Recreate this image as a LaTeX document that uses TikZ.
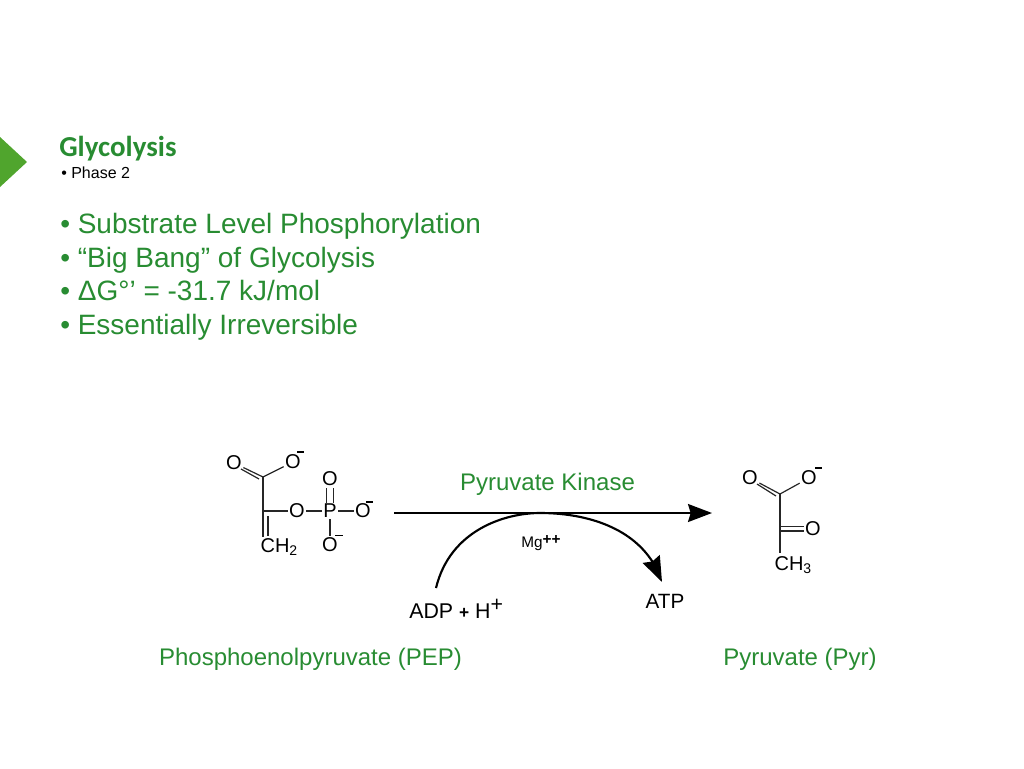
\documentclass[tikz,border=0pt]{standalone}
\usepackage{fontspec}
\setmainfont{Liberation Sans}
\newfontfamily\calfont{Carlito}
\usetikzlibrary{arrows.meta,bending}
\definecolor{titlegreen}{RGB}{40,140,50}
\definecolor{markgreen}{RGB}{80,165,45}
\newcommand{\fs}[1]{\fontsize{#1}{#1}\selectfont}
\tikzset{
  x=0.75pt,y=-0.75pt,
  lab/.style={inner sep=0pt,anchor=base west,text=titlegreen},
  blk/.style={inner sep=0pt,anchor=base west,text=black},
  atom/.style={inner sep=0pt,outer sep=1.2pt,text=black,font=\fs{15}},
  bond/.style={draw=black!85,line width=0.9pt},
  chg/.style={draw=black,line width=0.9pt},
  rxn/.style={draw=black,line width=1.3pt},
}
\begin{document}
\begin{tikzpicture}
\useasboundingbox (0,0) rectangle (1024,768);
\fill[markgreen] (0,137) -- (27,162) -- (0,187) -- cycle;
\node[lab,font=\calfont\bfseries\fs{21.7}] (title) at (59,156) {Glycolysis};
\node[blk,font=\fs{12}] (phase) at (61,178.5) {• Phase 2};
\node[lab,font=\fs{21}] (l1) at (60,233.5) {• Substrate Level Phosphorylation};
\node[lab,font=\fs{21}] (l2) at (60,267) {• “Big Bang” of Glycolysis};
\node[lab,font=\fs{21}] (l3) at (60,300.5) {• ΔG°’ = -31.7 kJ/mol};
\node[lab,font=\fs{21}] (l4) at (60,334) {• Essentially Irreversible};
% PEP
\coordinate (c1) at (263,477);
\coordinate (c2) at (263,511);
\node[atom] (oa) at (234,463) {O};
\node[atom] (ob) at (293,462) {O};
\coordinate (mb) at (297,452);
\node[atom] (oc) at (297,511) {O};
\node[atom] (p) at (330,511) {P};
\node[atom] (od) at (330,479) {O};
\node[atom] (oe) at (363,511) {O};
\coordinate (me) at (366,502);
\node[atom] (of) at (330,545) {O};
\coordinate (mf) at (335,535);
\node[atom,anchor=base west] (ch2) at (259,552) {CH\textsubscript{2}};
\draw[chg] (mb) -- ++(7,0);
\draw[chg] (me) -- ++(7,0);
\draw[chg,line width=0.6pt] (mf) -- ++(8,0);
\draw[bond] (c1) -- (ob);
\draw[bond] (c1) -- (c2) -- (oc) -- (p) -- (oe);
\draw[bond] (c2) -- (263,537);
\draw[bond] (268,516) -- (268,536);
\draw[bond] (c1) -- (oa);
\draw[bond] ([shift={(7,6)}]oa.center) -- ([shift={(-4,2)}]c1);
\draw[bond] ([xshift=-2.5]p.north) -- ([xshift=-2.5]od.south);
\draw[bond] ([xshift=2.5]p.north) -- ([xshift=2.5]od.south);
\draw[bond] (p) -- (of);
% Pyruvate
\coordinate (c3) at (780,494);
\coordinate (c4) at (780,528.5);
\node[atom] (og) at (750,478) {O};
\node[atom] (oh) at (809,478) {O};
\coordinate (mh) at (815,468);
\node[atom] (oi) at (813,528.5) {O};
\node[atom,anchor=base west] (ch3) at (773,570) {CH\textsubscript{3}};
\draw[chg] (mh) -- ++(7,0);
\draw[bond] (c3) -- (oh);
\draw[bond] (c3) -- (og);
\draw[bond] ([shift={(7,6)}]og.center) -- ([shift={(-4,2)}]c3);
\draw[bond] (c3) -- (c4) -- (780,553);
\draw[bond] ([yshift=-1.8]c4) -- ([yshift=-1.8]c4 -| oi.west);
\draw[bond] ([yshift=1.8]c4) -- ([yshift=1.8]c4 -| oi.west);
% Reaction
\coordinate (rs) at (394,513);
\coordinate (re) at (712,513);
\coordinate (as) at (436,588);
\coordinate (ae) at (662,582);
\draw[rxn,-{Stealth[length=18pt,width=13.5pt,inset=2pt]}] (rs) -- (re);
\draw[rxn,line width=1.6pt,-{Stealth[length=19pt,width=14pt,inset=2pt,flex=1]}] (as) .. controls (450,530) and (505,513) .. (540,513) .. controls (590,513) and (645,530) .. (ae);
\node[inner sep=0pt,text=titlegreen,font=\fs{18},anchor=base] (pk) at (547.5,490) {Pyruvate Kinase};
\node[blk,font=\fs{11.5}] (mg) at (521,547.5) {Mg\raisebox{2pt}{\fs{11.5}\textbf{++}}};
\node[blk,font=\fs{16}] (adp) at (409,618) {ADP {\fs{13}\textbf{+}} H\raisebox{5pt}{+}};
\node[inner sep=0pt,text=black,font=\fs{15.5},anchor=base] (atp) at (665,608) {ATP};
\node[inner sep=0pt,text=titlegreen,font=\fs{18},anchor=base] (pep) at (310.5,665) {Phosphoenolpyruvate (PEP)};
\node[inner sep=0pt,text=titlegreen,font=\fs{18},anchor=base] (pyr) at (800,665) {Pyruvate (Pyr)};
\end{tikzpicture}
\end{document}
